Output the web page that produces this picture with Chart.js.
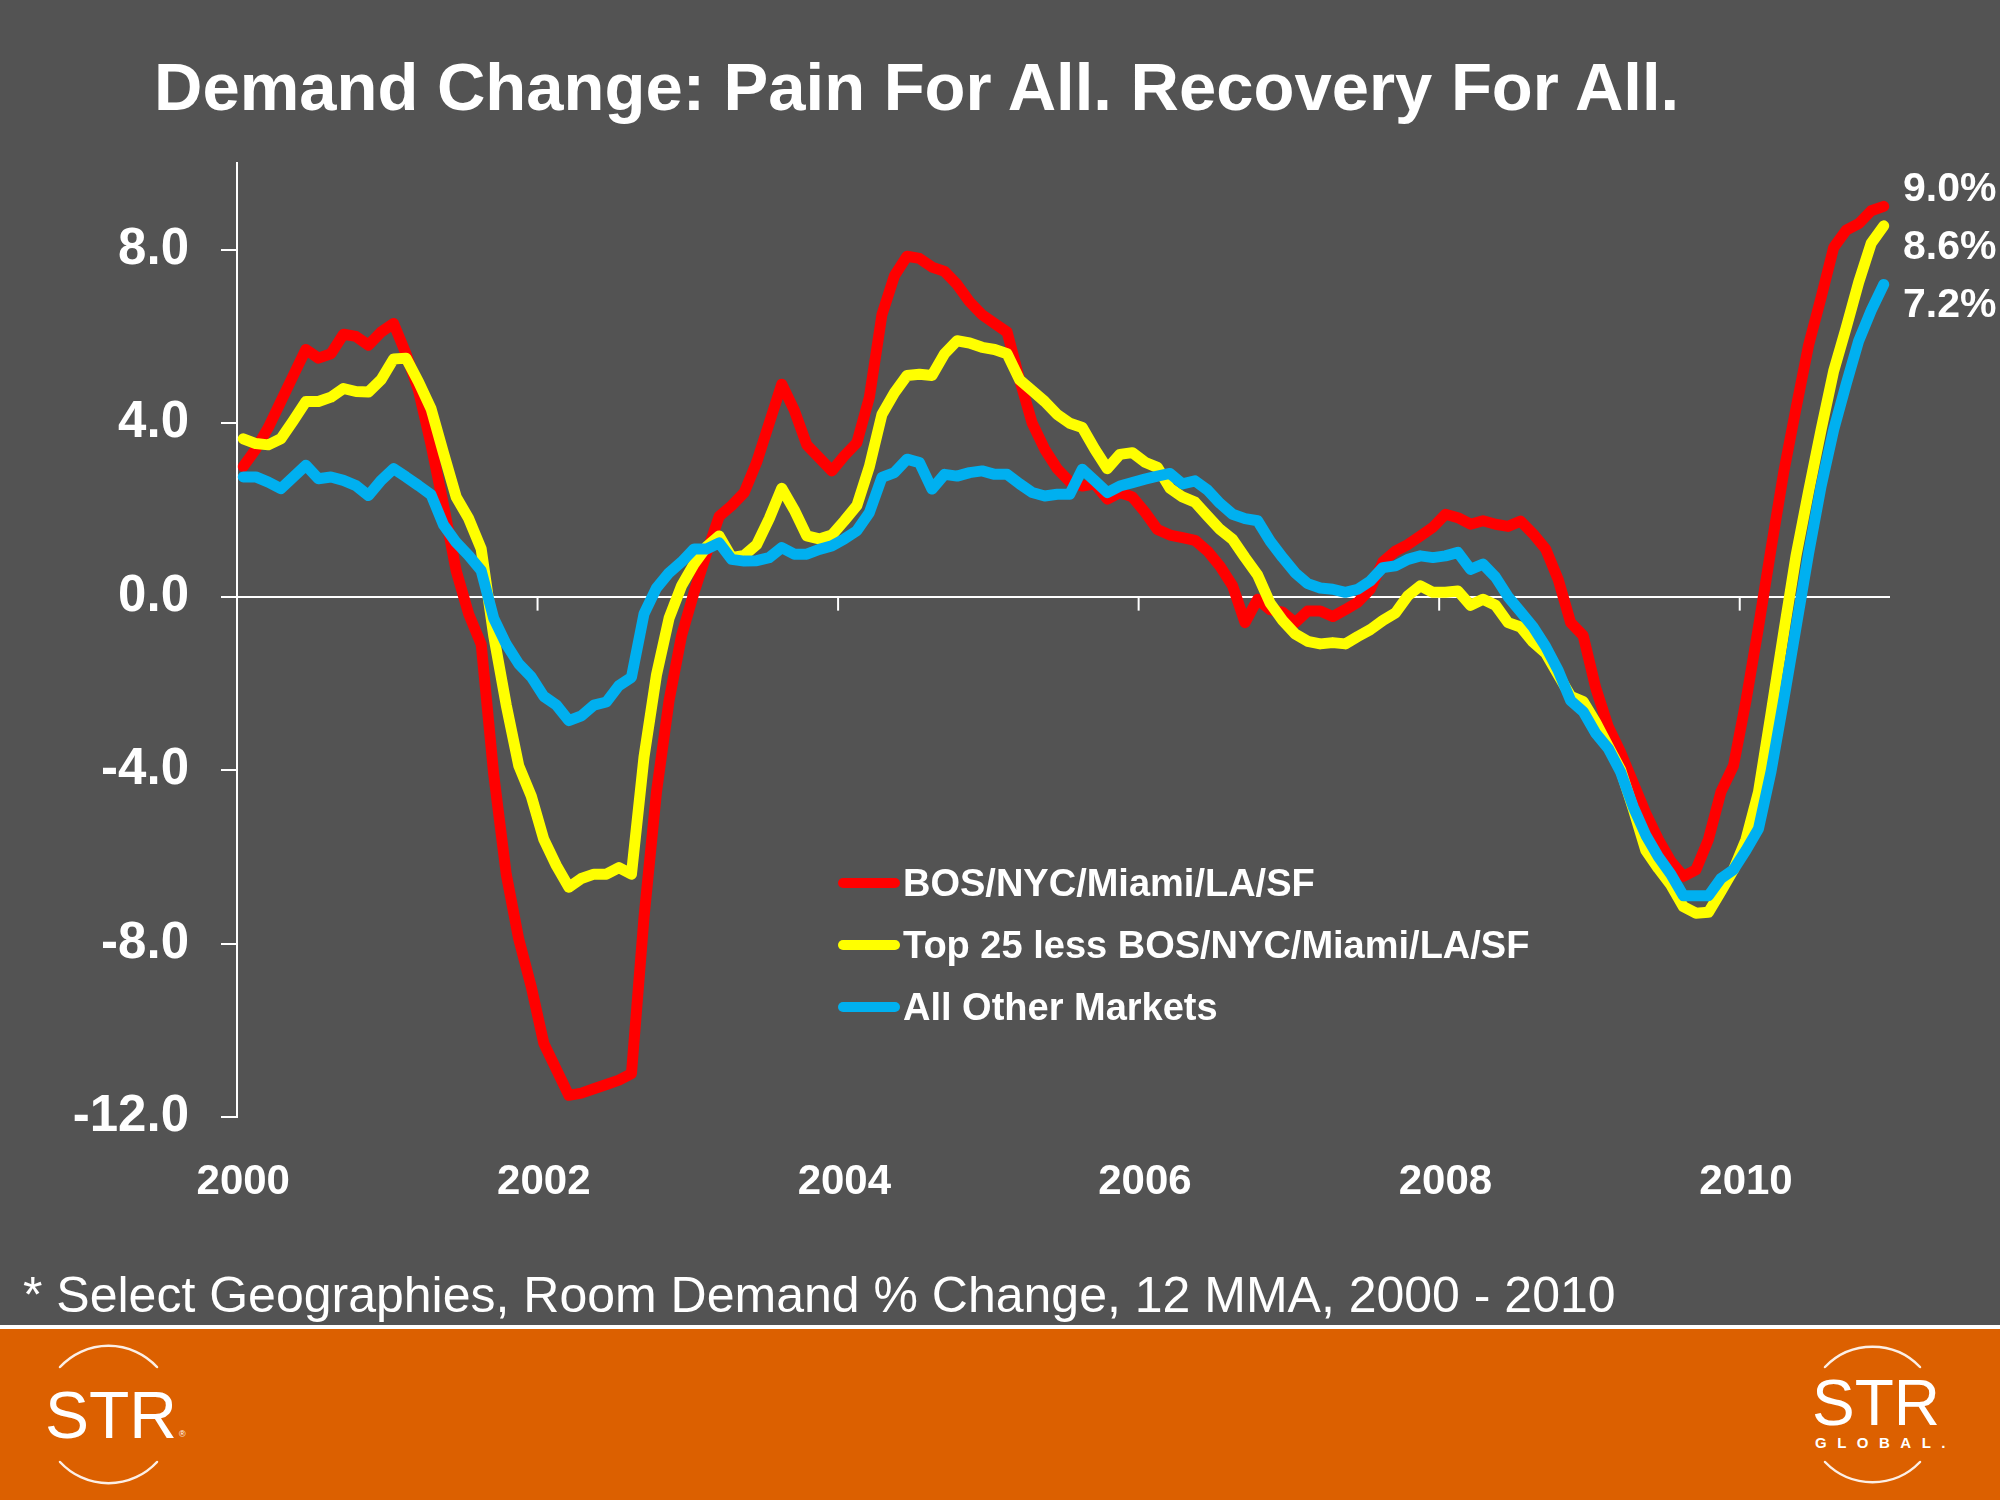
<!DOCTYPE html>
<html>
<head>
<meta charset="utf-8">
<script src="https://cdn.jsdelivr.net/npm/chart.js@4.4.1/dist/chart.umd.min.js"></script>
<style>
html,body{margin:0;padding:0;background:#535353;width:2000px;height:1500px;overflow:hidden;font-family:"Liberation Sans",Arial,sans-serif;}
#title{position:absolute;left:154px;top:53px;font-size:67px;line-height:67px;font-weight:bold;color:#fff;white-space:nowrap;}
#chartBox{position:absolute;left:0;top:0;width:2000px;height:1326px;}
#legend{position:absolute;left:838px;top:852px;}
.row{display:flex;align-items:center;height:62px;}
.sw{width:62px;height:10px;border-radius:5px;margin-right:3px;}
.row span{font-size:38px;font-weight:bold;color:#fff;white-space:nowrap;}
.end{position:absolute;left:1903px;font-size:41px;line-height:41px;font-weight:bold;color:#fff;white-space:nowrap;}
#note{position:absolute;left:23px;top:1270px;font-size:50px;line-height:50px;color:#fff;white-space:nowrap;}
#footer{position:absolute;left:0;top:1325px;width:2000px;height:175px;background:#DC6000;border-top:4px solid #fff;box-sizing:border-box;}
#logos{position:absolute;left:0;top:1329px;}
</style>
</head>
<body>
<div id="title">Demand Change: Pain For All. Recovery For All.</div>
<div id="chartBox"><canvas id="c"></canvas></div>
<div id="legend"></div>
<div id="ends"></div>
<div id="note">* Select Geographies, Room Demand % Change, 12 MMA, 2000 - 2010</div>
<div id="footer"></div>
<svg id="logos" width="2000" height="171" xmlns="http://www.w3.org/2000/svg">
  <g fill="none" stroke="#fff" stroke-width="2.5" stroke-linecap="round" stroke-opacity="0.9">
    <path d="M60 38 A66 66 0 0 1 157 38"/>
    <path d="M60 133 A66 66 0 0 0 157 133"/>
    <path d="M1825 38 A66 66 0 0 1 1920 38"/>
    <path d="M1825 133 A66 66 0 0 0 1920 133"/>
  </g>
  <text x="45" y="109" font-family="Liberation Sans, Arial, sans-serif" font-size="66" fill="#fff">STR</text>
  <text x="179" y="108" font-family="Liberation Sans, Arial, sans-serif" font-size="9" fill="#fff">®</text>
  <text x="1812" y="96" font-family="Liberation Sans, Arial, sans-serif" font-size="64" fill="#fff">STR</text>
  <text x="1815" y="119" font-family="Liberation Sans, Arial, sans-serif" font-size="15" font-weight="bold" letter-spacing="10.5" fill="#fff">GLOBAL.</text>
</svg>
<script>
// ---- data ----
const years = ['2000','2001','2002','2003','2004','2005','2006','2007','2008','2009','2010'];
const monthNames = ['01','02','03','04','05','06','07','08','09','10','11','12'];
const tickYearLabels = ['2000','2002','2004','2006','2008','2010'];
const yTickValues = [-12, -8, -4, 0, 4, 8];
const yMin = -12, yMax = 10;

const seriesNames = ['BOS/NYC/Miami/LA/SF', 'Top 25 less BOS/NYC/Miami/LA/SF', 'All Other Markets'];
const seriesColors = ['#FF0000', '#FFFF00', '#00B0F0'];
const endLabels = ['9.0%', '8.6%', '7.2%'];

const bosNycMiamiLaSf = [
 3.0,3.4,3.9,4.5,5.1,5.7,5.5,5.6,6.05,6.0,5.8,6.1,
 6.3,5.6,4.75,3.5,2.1,0.6,-0.4,-1.1,-4.1,-6.4,-7.9,-9.0,
 -10.3,-10.9,-11.5,-11.45,-11.35,-11.25,-11.15,-11.0,-7.4,-4.5,-2.4,-0.9,
 0.1,1.0,1.85,2.1,2.4,3.1,4.0,4.9,4.3,3.5,3.2,2.9,
 3.25,3.55,4.6,6.5,7.4,7.85,7.8,7.6,7.5,7.2,6.8,6.5,
 6.3,6.1,5.0,4.0,3.4,2.95,2.65,2.55,2.6,2.25,2.4,2.3,
 1.95,1.55,1.42,1.36,1.3,1.05,0.7,0.25,-0.6,-0.06,-0.3,-0.36,
 -0.6,-0.33,-0.33,-0.46,-0.3,-0.13,0.17,0.8,1.05,1.2,1.4,1.6,
 1.9,1.82,1.67,1.75,1.67,1.62,1.74,1.45,1.1,0.4,-0.6,-0.9,
 -2.1,-3.0,-3.6,-4.3,-5.0,-5.6,-6.1,-6.45,-6.3,-5.6,-4.5,-3.9,
 -2.4,-0.7,1.1,2.85,4.35,5.8,6.9,8.05,8.45,8.6,8.9,9.0
];
const top25Less = [
 3.64,3.53,3.5,3.64,4.06,4.5,4.5,4.6,4.8,4.73,4.72,5.0,
 5.48,5.5,4.95,4.33,3.3,2.3,1.8,1.1,-0.9,-2.5,-3.9,-4.6,
 -5.6,-6.2,-6.7,-6.5,-6.4,-6.4,-6.25,-6.4,-3.7,-1.8,-0.5,0.25,
 0.75,1.15,1.4,0.9,0.95,1.2,1.8,2.5,2.0,1.4,1.33,1.42,
 1.75,2.1,3.0,4.2,4.7,5.1,5.13,5.1,5.6,5.9,5.85,5.75,
 5.7,5.6,5.0,4.75,4.5,4.2,4.0,3.9,3.4,2.95,3.28,3.32,
 3.1,2.98,2.5,2.3,2.18,1.86,1.55,1.32,0.9,0.5,-0.15,-0.55,
 -0.86,-1.03,-1.09,-1.06,-1.09,-0.92,-0.76,-0.55,-0.38,0.02,0.25,0.1,
 0.1,0.13,-0.2,-0.06,-0.2,-0.6,-0.7,-1.05,-1.3,-1.8,-2.3,-2.42,
 -2.9,-3.45,-4.0,-4.9,-5.85,-6.27,-6.65,-7.15,-7.3,-7.28,-6.8,-6.3,
 -5.6,-4.5,-2.7,-0.85,0.95,2.43,3.85,5.2,6.2,7.25,8.15,8.55
];
const allOtherMarkets = [
 2.76,2.76,2.64,2.49,2.76,3.03,2.72,2.76,2.68,2.56,2.33,2.68,
 2.95,2.76,2.56,2.35,1.65,1.25,0.95,0.6,-0.5,-1.1,-1.55,-1.85,
 -2.3,-2.5,-2.86,-2.75,-2.5,-2.43,-2.05,-1.86,-0.4,0.2,0.55,0.8,
 1.1,1.1,1.24,0.86,0.82,0.83,0.9,1.13,0.98,0.98,1.09,1.17,
 1.33,1.52,1.94,2.75,2.86,3.17,3.09,2.48,2.82,2.78,2.86,2.9,
 2.82,2.82,2.6,2.4,2.32,2.36,2.36,2.94,2.67,2.4,2.55,2.63,
 2.71,2.78,2.84,2.6,2.67,2.46,2.15,1.9,1.8,1.75,1.28,0.9,
 0.55,0.3,0.2,0.17,0.1,0.17,0.36,0.67,0.71,0.86,0.94,0.9,
 0.94,1.02,0.63,0.75,0.45,0.0,-0.35,-0.7,-1.15,-1.7,-2.4,-2.65,
 -3.15,-3.5,-4.05,-4.85,-5.5,-6.0,-6.4,-6.9,-6.9,-6.9,-6.5,-6.3,
 -5.85,-5.35,-4.03,-2.4,-0.7,1.0,2.55,3.85,4.9,5.9,6.6,7.2
];
const seriesData = [bosNycMiamiLaSf, top25Less, allOtherMarkets];

// ---- derived ----
const categories = [];
years.forEach(y => monthNames.forEach(m => categories.push(y + '-' + m)));
const tickIndexes = tickYearLabels.map(y => categories.indexOf(y + '-01'));

// legend (HTML)
const legendEl = document.getElementById('legend');
seriesNames.forEach((n, i) => {
  const r = document.createElement('div'); r.className = 'row';
  const s = document.createElement('div'); s.className = 'sw'; s.style.background = seriesColors[i];
  const t = document.createElement('span'); t.textContent = n;
  r.appendChild(s); r.appendChild(t); legendEl.appendChild(r);
});
// end labels
const endTops = [167, 225, 283];
const endsEl = document.getElementById('ends');
endLabels.forEach((t, i) => {
  const d = document.createElement('div'); d.className = 'end'; d.style.top = endTops[i] + 'px'; d.textContent = t;
  endsEl.appendChild(d);
});

Chart.defaults.font.family = '"Liberation Sans", Arial, sans-serif';
Chart.defaults.color = '#fff';

const axisTicksPlugin = {
  id: 'axisTicks',
  beforeDatasetsDraw(chart) {
    const xs = chart.scales.x, ys = chart.scales.y, ctx = chart.ctx;
    const cw = xs.getPixelForValue(1) - xs.getPixelForValue(0);
    const y0 = ys.getPixelForValue(0);
    ctx.save();
    ctx.strokeStyle = '#fff'; ctx.lineWidth = 2;
    tickIndexes.forEach(i => {
      const px = xs.getPixelForValue(i) - cw / 2;
      ctx.beginPath(); ctx.moveTo(px, y0); ctx.lineTo(px, y0 + 14); ctx.stroke();
    });
    ctx.restore();
  }
};

new Chart(document.getElementById('c'), {
  type: 'line',
  data: {
    labels: categories,
    datasets: seriesData.map((d, i) => ({
      label: seriesNames[i],
      data: d,
      borderColor: seriesColors[i],
      backgroundColor: seriesColors[i],
      borderWidth: 11,
      pointRadius: 0,
      tension: 0,
      borderJoinStyle: 'round',
      borderCapStyle: 'round',
      fill: false,
      order: 3 - i
    }))
  },
  options: {
    responsive: true,
    maintainAspectRatio: false,
    animation: false,
    layout: { padding: { top: 163, right: 110, bottom: 109, left: 0 } },
    plugins: { legend: { display: false }, tooltip: { enabled: false } },
    scales: {
      x: {
        type: 'category',
        offset: true,
        grid: { display: false, drawTicks: false },
        border: { display: false },
        afterBuildTicks: s => { s.ticks = s.ticks.filter(t => tickIndexes.includes(t.value)); },
        afterFit: s => { s.height = 100; s.paddingLeft = 0; s.paddingRight = 0; },
        ticks: {
          autoSkip: false, maxRotation: 0, minRotation: 0, padding: 40,
          color: '#fff', font: { size: 42, weight: 'bold' },
          callback: v => tickYearLabels[tickIndexes.indexOf(v)]
        }
      },
      y: {
        min: yMin, max: yMax,
        afterBuildTicks: s => { s.ticks = yTickValues.map(v => ({ value: v })); },
        afterFit: s => { s.width = 237; s.paddingTop = 0; s.paddingBottom = 0; },
        grid: {
          color: c => (c.tick && c.tick.value === 0) ? '#fff' : 'rgba(0,0,0,0)',
          lineWidth: 2, tickColor: '#fff', tickLength: 16, tickWidth: 2, drawTicks: true
        },
        border: { display: true, color: '#fff', width: 2 },
        ticks: { color: '#fff', padding: 32, font: { size: 51, weight: 'bold' }, callback: v => Number(v).toFixed(1) }
      }
    }
  },
  plugins: [axisTicksPlugin]
});
</script>
</body>
</html>
